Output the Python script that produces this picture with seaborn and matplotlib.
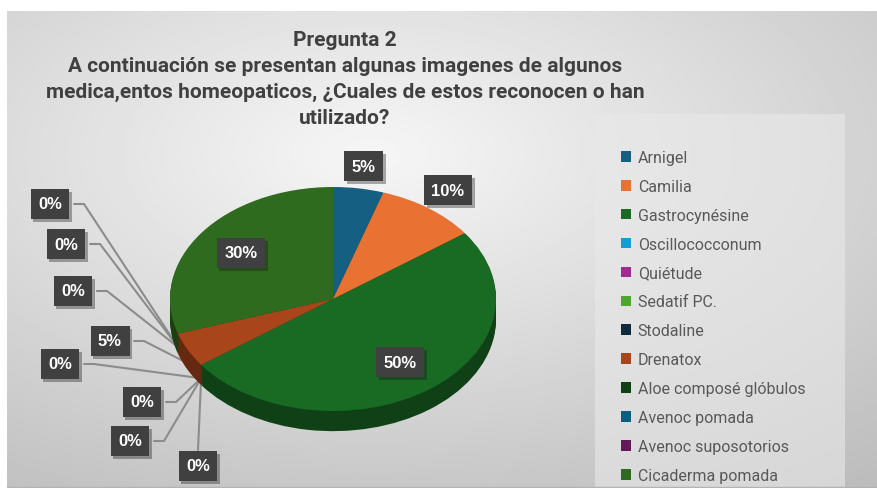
import matplotlib as mpl
mpl.use('Agg')
import matplotlib.pyplot as plt
import matplotlib.patheffects as pe
from matplotlib.patches import Patch, Rectangle
from matplotlib.lines import Line2D
import seaborn as sns
import numpy as np

# data (percent of answers)
labels = ['Arnigel', 'Camilia', 'Gastrocynésine', 'Oscillococconum', 'Quiétude',
          'Sedatif PC.', 'Stodaline', 'Drenatox', 'Aloe composé glóbulos',
          'Avenoc pomada', 'Avenoc suposotorios', 'Cicaderma pomada']
values = [5, 10, 50, 0, 0, 0, 0, 5, 0, 0, 0, 30]
colors = ['#156082', '#e97132', '#196b24', '#0f9ed5', '#a02b93', '#4ea72e',
          '#0e2a3d', '#a8451a', '#0f4016', '#0a5f80', '#601a58', '#2f6b1e']

title = ('Pregunta 2\nA continuación se presentan algunas imagenes de algunos\n'
         'medica,entos homeopaticos, ¿Cuales de estos reconocen o han\nutilizado?')

# label boxes of the small slices are pulled out to the left with leader lines (px)
callout_px = {3: (198, 467), 4: (130, 442), 5: (142, 403), 6: (60, 365),
              7: (110, 342), 8: (73, 292), 9: (66, 245), 10: (50, 205)}

sns.set_theme(style='white')
plt.rcParams['font.family'] = ['Roboto', 'DejaVu Sans']

W, H = 877, 489
fig = plt.figure(figsize=(W / 100, H / 100), dpi=100)
fig.patch.set_facecolor('white')

# gradient background of the chart area
bg = fig.add_axes([7 / W, 0, 1 - 7 / W, 1 - 12 / H], zorder=-10)
yy, xx = np.mgrid[0:1:300j, 0:1:500j]
r = np.sqrt(((xx - 0.42) / 0.9) ** 2 + ((yy - 0.3) / 0.85) ** 2)
bg.imshow(0.965 - 0.22 * r, cmap='gray', vmin=0, vmax=1, aspect='auto',
          extent=[0, 1, 1, 0])
bg.axhline(1, color='#b3b3b3', lw=2.5)
bg.add_patch(Rectangle((600 / W - 7 / W, 0), 252 / W, (H - 115) / (H - 12),
                       transform=bg.transAxes, fc='#e9e9e9', ec='none', alpha=0.6))
bg.set_axis_off()
bg.set_xlim(0, 1)
bg.set_ylim(1, 0)

fig.text(345 / W, 1 - 31 / H, title, ha='center', va='top', fontsize=15,
         fontweight='bold', color='#404040', linespacing=1.46)

# pie, squashed to an ellipse with a dark side band for the 3D look
cx, cy, rx, ry = 333, 300, 163, 112
depth = 0.18
ax = fig.add_axes([(cx - rx) / W, (H - cy - ry * (1 + depth + 0.05)) / H,
                   2 * rx / W, ry * (2 + depth + 0.05) / H])
side = [tuple(np.array(mpl.colors.to_rgb(c)) * 0.6) for c in colors]
for k in np.linspace(depth, 0.01, 12):
    ax.pie(values, colors=side, startangle=90, counterclock=False,
           center=(0, -k), radius=1, wedgeprops=dict(lw=0))
wedges, _ = ax.pie(values, colors=colors, startangle=90, counterclock=False,
                   radius=1, wedgeprops=dict(lw=0))
ax.set_aspect('auto')
ax.set_xlim(-1, 1)
ax.set_ylim(-1 - depth - 0.05, 1)

box = dict(boxstyle='square,pad=0.45', fc='#404040', ec='none')
shadow = [pe.withSimplePatchShadow(offset=(2, -2), alpha=0.35)]
to_fig = ax.transData + fig.transFigure.inverted()

for i, w in enumerate(wedges):
    pct = f'{values[i]}%'
    ang = np.deg2rad((w.theta1 + w.theta2) / 2)
    if i in callout_px:
        px, py = callout_px[i]
        tx, ty = px / W, 1 - py / H
        t = fig.text(tx, ty, pct, ha='center', va='center', fontsize=12,
                     fontweight='bold', color='white', bbox=box,
                     family=['Liberation Sans', 'DejaVu Sans'])
        # leader line ends on the rim, a bit down the side band
        ax_pt = to_fig.transform((np.cos(ang), np.sin(ang) - 0.12))
        if py > 455:
            xs, ys = [tx, ax_pt[0]], [ty + 16 / H, ax_pt[1]]
        else:
            edge = tx + 24 / W
            xs = [edge, edge + 10 / W, ax_pt[0]]
            ys = [ty, ty, ax_pt[1]]
        fig.add_artist(Line2D(xs, ys, color='#8c8c8c', lw=1.5, zorder=-1))
    else:
        rr = 0.7 if values[i] >= 20 else 1.2
        t = ax.text(rr * np.cos(ang), rr * np.sin(ang), pct, ha='center',
                    va='center', fontsize=12, fontweight='bold', color='white',
                    bbox=box, family=['Liberation Sans', 'DejaVu Sans'])
    t.get_bbox_patch().set_path_effects(shadow)

handles = [Patch(fc=c, ec='none') for c in colors]
fig.legend(handles, labels, loc='upper left', bbox_to_anchor=(613 / W, 1 - 143 / H),
           frameon=False, labelcolor='#595959', handlelength=0.65,
           handleheight=0.65, handletextpad=0.4, labelspacing=0.87, borderpad=0,
           prop={'family': ['Roboto', 'DejaVu Sans'], 'size': 11.5})

fig.savefig('out.png', dpi=100)
